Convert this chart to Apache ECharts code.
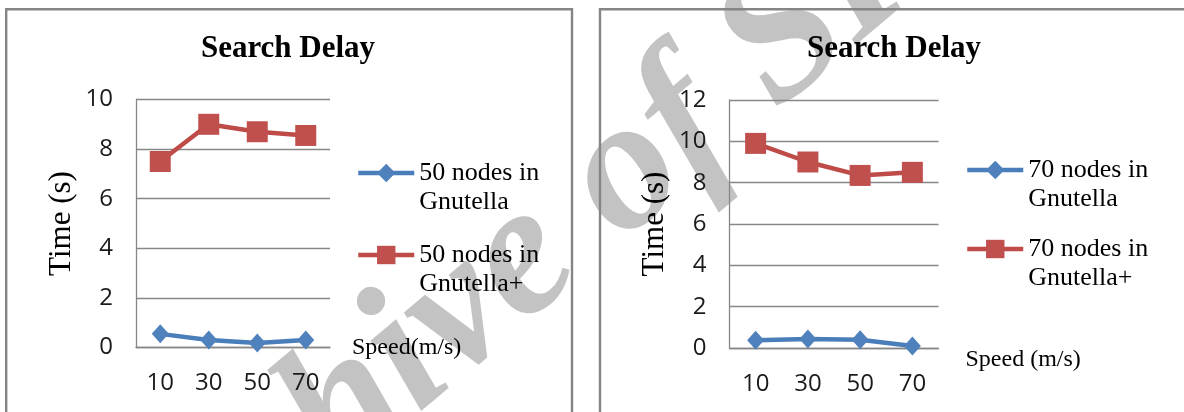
<!DOCTYPE html>
<html>
<head>
<meta charset="utf-8">
<script src="https://cdn.jsdelivr.net/npm/echarts@6/dist/echarts.min.js"></script>
<style>
  html, body { margin: 0; padding: 0; background: #ffffff; }
  #chart { width: 1184px; height: 412px; }
</style>
</head>
<body>
<div id="chart"></div>
<script>
// Mobile speed categories (m/s)
const speeds = ['10', '30', '50', '70'];

// Search delay in seconds, 50-node network
const gnutella50 = [0.55, 0.3, 0.18, 0.3];
const gnutellaPlus50 = [7.5, 9.0, 8.7, 8.55];

// Search delay in seconds, 70-node network
const gnutella70 = [0.38, 0.43, 0.4, 0.1];
const gnutellaPlus70 = [9.9, 9.0, 8.35, 8.5];

// Series names
const names = {
  g50: '50 nodes in Gnutella',
  p50: '50 nodes in Gnutella+',
  g70: '70 nodes in Gnutella',
  p70: '70 nodes in Gnutella+'
};

const SERIF = '"Liberation Serif", "Times New Roman", serif';
const SANS = '"Open Sans", "Liberation Sans", sans-serif';
const GRID_GRAY = '#878787';
const BLUE_LINE = '#4A7EBB', BLUE_FILL = '#4F81BD';
const RED_LINE = '#BE4B48', RED_FILL = '#C0504D';

const chart = echarts.init(document.getElementById('chart'), null, { renderer: 'canvas' });

function yAxisFor(gridIndex, max) {
  return {
    type: 'value', gridIndex, min: 0, max, interval: 2,
    name: 'Time (s)', nameLocation: 'middle', nameGap: 59,
    nameTextStyle: { fontFamily: SERIF, fontSize: 31, color: '#000' },
    axisLine: { show: true, lineStyle: { color: GRID_GRAY, width: 1.3 } },
    axisTick: { show: false },
    axisLabel: { fontFamily: SANS, fontSize: 24, color: '#1a1a1a', margin: 23 },
    splitLine: { lineStyle: { color: GRID_GRAY, width: 1.3 } }
  };
}

function xAxisFor(gridIndex, name, gap, valign) {
  return {
    type: 'category', gridIndex, data: speeds, boundaryGap: true,
    name, nameLocation: 'end', nameGap: gap,
    nameTextStyle: { fontFamily: SERIF, fontSize: 24, color: '#000', verticalAlign: valign },
    axisLine: { show: true, lineStyle: { color: GRID_GRAY, width: 1.3 } },
    axisTick: { show: false },
    axisLabel: { fontFamily: SANS, fontSize: 24, color: '#1a1a1a', margin: 24 }
  };
}

function lineSeries(name, data, axisIndex, isPlus) {
  return {
    type: 'line', name, data,
    xAxisIndex: axisIndex, yAxisIndex: axisIndex,
    symbol: isPlus ? 'rect' : 'diamond',
    symbolSize: isPlus ? 21 : [17, 19],
    lineStyle: { color: isPlus ? RED_LINE : BLUE_LINE, width: 4.5 },
    itemStyle: { color: isPlus ? RED_FILL : BLUE_FILL },
    animation: false, z: isPlus ? 3 : 2
  };
}

// One legend per entry, so each can sit at its own height.
// A leading blank line keeps the first text line level with the icon.
function legendFor(name, left, top, isPlus) {
  return {
    data: [name], left, top, orient: 'vertical', padding: 0,
    itemWidth: 56, itemHeight: 23, itemGap: 5, selectedMode: false,
    lineStyle: { width: 4.5, color: isPlus ? RED_LINE : BLUE_LINE },
    itemStyle: { color: isPlus ? RED_FILL : BLUE_FILL },
    formatter: n => '\n' + n.replace(' Gnutella', '\nGnutella'),
    textStyle: { fontFamily: SERIF, fontSize: 26, color: '#000', lineHeight: 29 }
  };
}

const option = {
  backgroundColor: '#ffffff',
  animation: false,
  title: [
    { text: 'Search Delay', left: 288, top: 33, textAlign: 'center', padding: 0,
      textStyle: { fontFamily: SERIF, fontSize: 31, fontWeight: 'bold', color: '#000' } },
    { text: 'Search Delay', left: 894, top: 33, textAlign: 'center', padding: 0,
      textStyle: { fontFamily: SERIF, fontSize: 31, fontWeight: 'bold', color: '#000' } }
  ],
  legend: [
    legendFor(names.g50, 356, 129.5, false),
    legendFor(names.p50, 356, 211.5, true),
    legendFor(names.g70, 965, 126.5, false),
    legendFor(names.p70, 965, 205.5, true)
  ],
  grid: [
    { left: 136, top: 99.5, width: 194, height: 248 },
    { left: 729.5, top: 100, width: 209, height: 248 }
  ],
  xAxis: [
    xAxisFor(0, 'Speed(m/s)', 22, 'middle'),
    xAxisFor(1, 'Speed (m/s)', 27, 'top')
  ],
  yAxis: [yAxisFor(0, 10), yAxisFor(1, 12)],
  series: [
    lineSeries(names.g50, gnutella50, 0, false),
    lineSeries(names.p50, gnutellaPlus50, 0, true),
    lineSeries(names.g70, gnutella70, 1, false),
    lineSeries(names.p70, gnutellaPlus70, 1, true)
  ],
  graphic: [
    // Archive watermark behind the charts
    { type: 'text', x: 538, y: 249, rotation: 0.70, z: -10, silent: true,
      style: { text: 'Archive of SID', fontFamily: SERIF, fontSize: 188, fontWeight: 'bold',
               fontStyle: 'italic', fill: '#c3c3c3', align: 'center', verticalAlign: 'middle' } },
    // Panel frames
    { type: 'rect', z: 10, silent: true, shape: { x: 6.2, y: 9.2, width: 565.8, height: 430 },
      style: { fill: 'none', stroke: '#858585', lineWidth: 2.4 } },
    { type: 'rect', z: 10, silent: true, shape: { x: 600, y: 9.2, width: 620, height: 430 },
      style: { fill: 'none', stroke: '#858585', lineWidth: 2.4 } }
  ]
};

chart.setOption(option);
</script>
</body>
</html>
